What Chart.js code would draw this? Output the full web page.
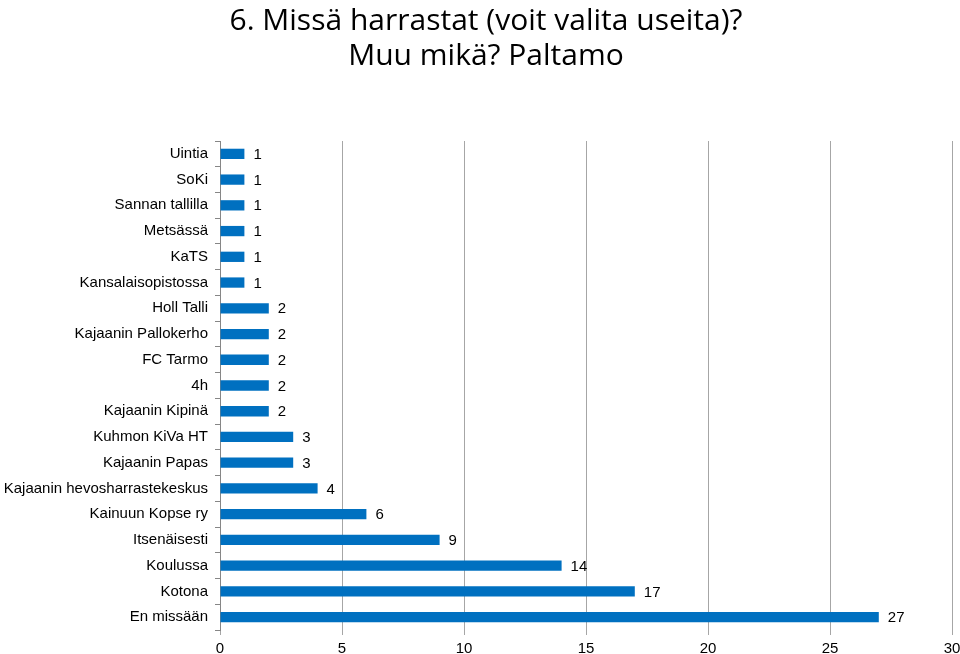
<!DOCTYPE html>
<html>
<head>
<meta charset="utf-8">
<script src="https://cdn.jsdelivr.net/npm/chart.js@4"></script>
<style>
  html, body { margin: 0; padding: 0; background: #fff; }
  #wrap { width: 960px; height: 654px; }
</style>
</head>
<body>
<div id="wrap"><canvas id="chart"></canvas></div>
<script>
// Data
var categories = ['Uintia', 'SoKi', 'Sannan tallilla', 'Metsässä', 'KaTS', 'Kansalaisopistossa',
    'Holl Talli', 'Kajaanin Pallokerho', 'FC Tarmo', '4h', 'Kajaanin Kipinä', 'Kuhmon KiVa HT',
    'Kajaanin Papas', 'Kajaanin hevosharrastekeskus', 'Kainuun Kopse ry', 'Itsenäisesti',
    'Koulussa', 'Kotona', 'En missään'];
var counts = [1, 1, 1, 1, 1, 1, 2, 2, 2, 2, 2, 3, 3, 4, 6, 9, 14, 17, 27];
var xTicks = [0, 5, 10, 15, 20, 25, 30];
var titleLines = ['6. Missä harrastat (voit valita useita)?', 'Muu mikä? Paltamo'];

var labelFont = '"Liberation Sans", Arial, sans-serif';

// title sits a bit right of the canvas centre, so it is drawn by hand
var titleText = {
    id: 'titleText',
    afterDraw: function (chart) {
        var ctx = chart.ctx;
        ctx.save();
        ctx.font = '30px "Open Sans", sans-serif';
        ctx.fillStyle = '#000';
        ctx.textAlign = 'center';
        ctx.textBaseline = 'alphabetic';
        titleLines.forEach(function (line, i) {
            ctx.fillText(line, 486, 30 + i * 35);
        });
        ctx.restore();
    }
};

// value labels right of each bar
var valueLabels = {
    id: 'valueLabels',
    afterDatasetsDraw: function (chart) {
        var ctx = chart.ctx;
        var meta = chart.getDatasetMeta(0);
        ctx.save();
        ctx.font = '15px ' + labelFont;
        ctx.fillStyle = '#000';
        ctx.textAlign = 'left';
        ctx.textBaseline = 'middle';
        meta.data.forEach(function (bar, i) {
            ctx.fillText(String(counts[i]), bar.x + 9, bar.y + 1);
        });
        ctx.restore();
    }
};

var config = {
    type: 'bar',
    data: {
        labels: categories,
        datasets: [{
            data: counts,
            backgroundColor: '#0070C0',
            borderWidth: 0,
            barPercentage: 0.4,
            categoryPercentage: 1
        }]
    },
    options: {
        indexAxis: 'y',
        responsive: true,
        maintainAspectRatio: false,
        animation: false,
        layout: { padding: { left: 0, right: 8, top: 141, bottom: 0 } },
        plugins: {
            legend: { display: false },
            tooltip: { enabled: false },
            title: { display: false }
        },
        scales: {
            x: {
                min: 0,
                max: 30,
                afterBuildTicks: function (scale) {
                    scale.ticks = xTicks.map(function (v) { return { value: v }; });
                },
                afterFit: function (scale) {
                    scale.height = 24;
                    scale.paddingLeft = 0;
                    scale.paddingRight = 0;
                },
                grid: { color: '#a6a6a6', lineWidth: 1, tickLength: 5, drawTicks: true },
                border: { display: false },
                ticks: {
                    color: '#000',
                    font: { family: labelFont, size: 15, lineHeight: 1 },
                    padding: 6,
                    maxRotation: 0
                }
            },
            y: {
                afterFit: function (scale) { scale.width = 220; },
                grid: { offset: true, drawOnChartArea: false, color: '#868686', tickLength: 5 },
                border: { display: true, color: '#868686' },
                ticks: {
                    color: '#000',
                    font: { family: labelFont, size: 15 },
                    padding: 7,
                    autoSkip: false
                }
            }
        }
    },
    plugins: [valueLabels, titleText]
};

new Chart(document.getElementById('chart'), config);
</script>
</body>
</html>
